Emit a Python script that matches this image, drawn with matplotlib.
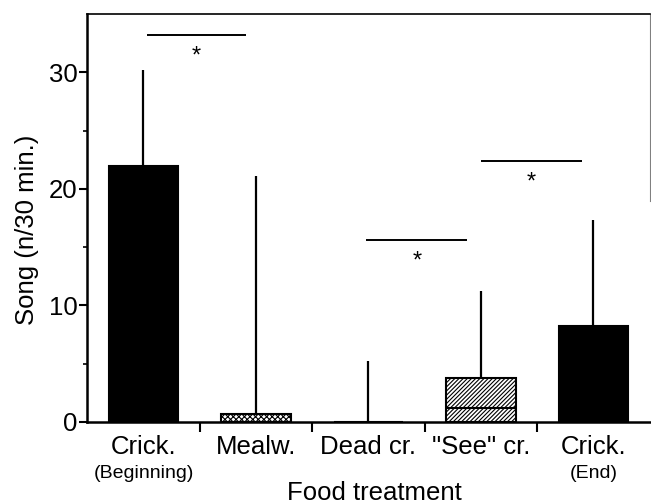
import numpy as np
import matplotlib.pyplot as plt

plt.rcParams['font.family'] = ['Liberation Sans', 'DejaVu Sans']
plt.rcParams['hatch.linewidth'] = 0.8

# data
categories = ['Crick.', 'Mealw.', 'Dead cr.', '"See" cr.', 'Crick.']
sublabels = ['(Beginning)', '', '', '', '(End)']
means = [22.0, 0.7, 0.0, 3.8, 8.2]
upper = [30.2, 21.1, 5.2, 11.2, 17.3]   # top of the error bar
median_see = 1.2
fills = ['black', 'white', 'white', 'white', 'black']
hatches = [None, 'xxxxxx', None, '////////', None]

# significance bars: (x start, x end, y)
sig_x0 = [0.03, 1.98, 3.0]
sig_x1 = [0.91, 2.88, 3.9]
sig_y = [33.2, 15.6, 22.4]

fig = plt.figure(figsize=(6.51, 5.04), dpi=100)
ax = fig.add_axes([0.134, 0.163, 0.864, 0.809])

x = np.arange(len(categories))

for i in x:
    ax.bar(i, means[i], width=0.62, color=fills[i], edgecolor='black',
           linewidth=1.5, hatch=hatches[i], zorder=2)
    ax.vlines(i, means[i], upper[i], color='black', lw=1.6, zorder=3)

# median line inside the "See" bar
ax.hlines(median_see, 3 - 0.31, 3 + 0.31, color='black', lw=1.5, zorder=3)

for x0, x1, y in zip(sig_x0, sig_x1, sig_y):
    ax.hlines(y, x0, x1, color='black', lw=1.4)
    ax.text((x0 + x1) / 2, y - 0.9, '*', ha='center', va='top', fontsize=17)

ax.set_xlim(-0.5, 4.5)
ax.set_ylim(0, 35)

ax.set_yticks([0, 10, 20, 30])
ax.set_yticks([5, 15, 25], minor=True)
ax.tick_params(axis='y', which='major', labelsize=18.5, length=6, width=1.5, pad=1)
ax.tick_params(axis='y', which='minor', length=3, width=1.2)

# x ticks sit between categories, labels drawn at centres
ax.set_xticks([0.5, 1.5, 2.5, 3.5])
ax.set_xticklabels([])
ax.tick_params(axis='x', length=7, width=1.5)
for i in x:
    ax.text(i, -1.1, categories[i], ha='center', va='top', fontsize=18.5)
    if sublabels[i]:
        ax.text(i, -3.7, sublabels[i], ha='center', va='top', fontsize=14)

# x axis title sits right at the bottom edge, as in the original
fig.text(0.5745, 1 - 500 / 504, 'Food treatment', ha='center', va='baseline',
         fontsize=18.5)
ax.set_ylabel('Song (n/30 min.)', fontsize=18.5)
ax.yaxis.set_label_coords(-0.085, 0.47)

ax.spines['left'].set_linewidth(1.8)
ax.spines['bottom'].set_linewidth(1.8)
ax.spines['top'].set_linewidth(1.2)
ax.spines['right'].set_linewidth(0.8)
ax.spines['right'].set_color('0.5')
ax.spines['right'].set_bounds(19, 35)

fig.savefig('out.png', dpi=100)
